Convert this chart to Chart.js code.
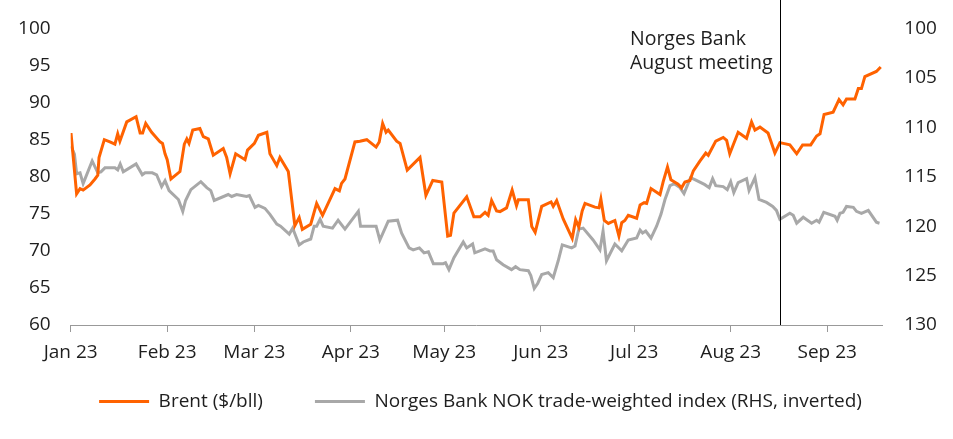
<!DOCTYPE html>
<html>
<head>
<meta charset="utf-8">
<script src="https://cdn.jsdelivr.net/npm/chart.js@4.4.0/dist/chart.umd.min.js"></script>
<style>
html, body { margin: 0; padding: 0; background: #fff; }
#wrap { position: relative; width: 953px; height: 439px; }
</style>
</head>
<body>
<div id="wrap"><canvas id="chartBrentNok"></canvas></div>
<script>
// x values = days since 1 Jan 2023
const monthDays = [0, 31, 59, 90, 120, 151, 181, 212, 243];
const monthLabels = ['Jan 23', 'Feb 23', 'Mar 23', 'Apr 23', 'May 23', 'Jun 23', 'Jul 23', 'Aug 23', 'Sep 23'];
const lastDay = 260.7;

// Brent ($/bll), LHS
const brentDay = [0.1, 1.9, 3, 4, 6.2, 7.8, 8.7, 9.1, 10.8, 12.6, 14.2, 15.1, 15.8, 18, 21, 22.3, 23.1, 24.1, 26, 28.7,
  29.5, 30.3, 31, 32.2, 35.1, 36.5, 37.3, 38, 39.2, 41.5, 42.6, 44.2, 45.8, 49, 50.1, 51.2, 53, 56, 56.8, 59,
  60.3, 63, 64, 66.2, 67.2, 69.9, 72, 73.4, 74.4, 77.1, 79, 80.9, 84.9, 86.3, 87, 88.1, 91.3, 92.9, 95.1, 98.1,
  99.1, 100.2, 101.3, 102, 104.7, 105.8, 108.1, 112.2, 114.1, 116.3, 119.2, 121.1, 122, 123.1, 127.2, 129.5, 131.5, 133.1, 134.1, 135.2,
  136.8, 137.9, 140, 141.8, 143.2, 143.8, 147, 148.1, 149.2, 151.3, 154.3, 155, 156.1, 158.2, 161.1, 162.2, 163.2, 164.3, 165.2, 168.4,
  169.7, 170.3, 171.4, 172.7, 174.8, 176.1, 177, 178, 179.1, 181.8, 182.9, 184.2, 185, 186.4, 189.3, 190.3, 191.7, 192.8, 195.1, 196.2,
  197.3, 198.9, 200, 202.1, 204, 204.8, 207.2, 209.6, 210.7, 211.7, 214.4, 217.1, 218.7, 219.8, 221.4, 224, 226.2, 227.8, 231, 233.2,
  235.1, 237.7, 239.6, 240.7, 242, 244.9, 246.8, 248.1, 249.2, 251.9, 253, 254, 255.1, 258.8, 260.2];
const brentVal = [85.9, 77.7, 78.4, 78.2, 78.9, 79.7, 80.2, 82.6, 85.0, 84.7, 84.4, 85.8, 84.8, 87.4, 88.1, 85.9, 85.9, 87.2, 86.0, 84.7,
  84.5, 83.1, 82.3, 79.7, 80.7, 84.4, 85.1, 84.5, 86.3, 86.5, 85.4, 85.1, 82.9, 83.8, 82.6, 80.4, 83.1, 82.3, 83.6, 84.5,
  85.6, 86.0, 83.1, 81.5, 82.6, 80.7, 73.4, 74.5, 72.9, 73.6, 76.4, 74.8, 78.4, 78.1, 79.1, 79.7, 84.7, 84.8, 85.0, 84.0,
  84.7, 87.2, 86.0, 86.3, 84.8, 84.5, 80.9, 82.6, 77.5, 79.5, 79.3, 72.0, 72.1, 75.1, 77.3, 74.6, 74.6, 75.2, 74.8, 76.8,
  75.4, 75.3, 75.8, 78.2, 76.1, 76.9, 76.9, 73.3, 72.5, 76.0, 76.6, 76.0, 76.8, 74.3, 71.7, 74.2, 73.2, 75.4, 76.4, 75.9,
  75.8, 77.0, 74.1, 73.7, 74.1, 72.0, 73.8, 74.1, 74.8, 74.4, 76.2, 76.5, 76.4, 78.4, 77.6, 79.3, 81.3, 79.6, 79.0, 78.5,
  79.3, 79.5, 80.8, 82.1, 83.2, 82.9, 84.8, 85.3, 84.9, 83.1, 86.0, 85.2, 87.4, 86.3, 86.7, 85.9, 83.2, 84.6, 84.3, 83.1,
  84.3, 84.3, 85.5, 85.8, 88.4, 88.7, 90.4, 89.7, 90.5, 90.5, 91.9, 91.9, 93.5, 94.2, 94.8];

// Norges Bank NOK trade-weighted index, RHS inverted
const nokDay = [0.1, 1.2, 1.9, 3, 4, 6.9, 8.7, 9.7, 11, 14.2, 15.1, 15.9, 16.9, 21, 23, 23.9, 26.2, 27.6, 29.2, 30.3,
  31.6, 34.6, 36, 36.9, 38.6, 41.8, 43.7, 45, 46.1, 50.6, 51.7, 53.3, 56.5, 57.4, 59.2, 60.3, 62.4, 64, 66.2, 67.4,
  70.2, 71.3, 73.4, 74.7, 77.1, 78.2, 79, 80.1, 81.1, 84.1, 85.9, 88.1, 92.4, 93.1, 98.1, 99.3, 102, 105, 106.3, 108.7,
  110, 112, 113.5, 114.9, 116.5, 119.7, 120.4, 121.5, 123.1, 126.1, 127.2, 129.1, 129.8, 133.1, 134.7, 135.7, 136.8, 138.9, 141.6, 142.9,
  144.3, 147, 147.8, 148.9, 150, 151.3, 153.4, 155, 156.6, 157.9, 160.9, 162, 163.2, 164.6, 167.8, 170, 171, 172.1, 174.8, 177,
  179.1, 181.8, 182.9, 183.7, 184.7, 186.4, 188.2, 189.6, 190.9, 192.5, 193.9, 195.7, 197, 199.1, 200.5, 203.7, 205.1, 206.2, 207.2, 209.6,
  210.9, 212, 213, 214.4, 217.1, 217.9, 219.8, 221.1, 223.5, 225.5, 226.7, 227.8, 231, 232.1, 233.2, 235.3, 238, 239.6, 240.4, 241.9,
  245.5, 246.2, 247.1, 248.1, 249.2, 251.4, 252.4, 254, 256.2, 258.8, 259.8];
const nokVal = [111.9, 112.7, 114.7, 114.6, 115.7, 113.4, 114.6, 114.5, 114.1, 114.1, 114.3, 113.7, 114.5, 113.7, 114.8, 114.6, 114.6, 114.8, 116.0, 115.4,
  116.4, 117.3, 118.5, 117.4, 116.3, 115.5, 116.1, 116.4, 117.4, 116.8, 117.0, 116.8, 117.0, 116.9, 118.1, 117.9, 118.2, 118.8, 119.8, 120.0,
  120.8, 120.2, 121.9, 121.6, 121.3, 120.0, 120.0, 119.3, 120.0, 120.2, 119.4, 120.3, 118.5, 120.0, 120.0, 121.4, 119.5, 119.4, 120.7, 122.2,
  122.4, 122.2, 122.7, 122.6, 123.8, 123.8, 123.7, 124.4, 123.2, 121.6, 122.2, 121.8, 122.7, 122.3, 122.5, 122.5, 123.4, 123.9, 124.4, 124.1,
  124.4, 124.5, 125.0, 126.3, 125.8, 124.9, 124.7, 125.2, 123.5, 121.9, 122.2, 122.0, 120.3, 120.2, 121.4, 122.4, 120.5, 123.5, 121.8, 122.5,
  121.4, 121.2, 120.4, 120.7, 120.5, 121.2, 120.0, 118.8, 117.3, 115.9, 115.7, 116.1, 116.7, 115.1, 115.3, 115.8, 116.1, 115.2, 115.9, 116.0,
  116.3, 115.5, 116.6, 115.6, 115.2, 116.4, 115.1, 117.3, 117.6, 118.0, 118.4, 119.3, 118.7, 118.9, 119.7, 119.1, 119.7, 119.4, 119.6, 118.6,
  119.0, 119.4, 118.7, 118.6, 118.0, 118.1, 118.5, 118.7, 118.4, 119.6, 119.7];

const meetingDay = 227.7;
const meetingText = ['Norges Bank', 'August meeting'];

const ORANGE = '#ff6200', GREY = '#a8a8a8', AXIS = '#999999', TEXT = '#1e1e1e';
const FONT = "'Open Sans', 'DejaVu Sans', sans-serif";

Chart.defaults.font.family = FONT;
Chart.defaults.font.size = 19;
Chart.defaults.color = TEXT;

const toPoints = (xs, ys) => xs.map((x, i) => ({ x, y: ys[i] }));

// vertical marker + label for the August meeting
const meetingLine = {
  id: 'meetingLine',
  afterDatasetsDraw(chart) {
    const { ctx, chartArea, scales: { x } } = chart;
    const px = Math.round(x.getPixelForValue(meetingDay)) + 0.5;
    ctx.save();
    ctx.strokeStyle = '#000'; ctx.lineWidth = 1;
    ctx.beginPath(); ctx.moveTo(px, 0); ctx.lineTo(px, chartArea.bottom); ctx.stroke();
    ctx.font = '19.5px ' + FONT; ctx.fillStyle = TEXT; ctx.textBaseline = 'middle'; ctx.textAlign = 'left';
    const w = Math.max(...meetingText.map(t => ctx.measureText(t).width));
    meetingText.forEach((t, i) => ctx.fillText(t, px - 8 - w, chartArea.top + 11 + i * 24.3));
    ctx.restore();
  }
};

// legend padding is wide (gap between items), so start the legend row higher, right under the axis labels
const legendLift = {
  id: 'legendLift',
  afterLayout(chart) {
    const lg = chart.legend;
    lg.top -= 35; lg.left += 4; lg.right += 4;
  }
};

new Chart(document.getElementById('chartBrentNok').getContext('2d'), {
  type: 'line',
  data: {
    datasets: [
      { label: 'Brent ($/bll)', data: toPoints(brentDay, brentVal), yAxisID: 'y',
        borderColor: ORANGE, backgroundColor: ORANGE, borderWidth: 3, pointRadius: 0, tension: 0 },
      { label: 'Norges Bank NOK trade-weighted index (RHS, inverted)', data: toPoints(nokDay, nokVal), yAxisID: 'y2',
        borderColor: GREY, backgroundColor: GREY, borderWidth: 3, pointRadius: 0, tension: 0 }
    ]
  },
  options: {
    responsive: true, maintainAspectRatio: false, animation: false,
    layout: { padding: { top: 28.5, left: 0, right: 0, bottom: 0 } },
    plugins: {
      tooltip: { enabled: false },
      legend: {
        position: 'bottom', maxHeight: 64,
        labels: {
          boxWidth: 50, boxHeight: 3, padding: 52, color: TEXT, font: { size: 19 },
          generateLabels: chart => Chart.defaults.plugins.legend.labels.generateLabels(chart).map(it => ({ ...it, lineWidth: 0 }))
        }
      }
    },
    scales: {
      x: {
        type: 'linear', min: 0, max: lastDay,
        afterBuildTicks: s => { s.ticks = monthDays.map(v => ({ value: v })); },
        ticks: { autoSkip: false, maxRotation: 0, padding: 9, callback: (v, i) => monthLabels[i] },
        grid: { drawOnChartArea: false, drawTicks: true, tickLength: 7, color: AXIS, lineWidth: 1 },
        border: { display: true, color: AXIS, width: 1 },
        afterFit: s => { s.height = 50; }
      },
      y: {
        position: 'left', min: 60, max: 100,
        ticks: { stepSize: 5, padding: 12 },
        grid: { display: false }, border: { display: false },
        afterFit: s => { s.width = 70.7; }
      },
      y2: {
        position: 'right', min: 100, max: 130, reverse: true,
        ticks: { stepSize: 5, padding: 14 },
        grid: { display: false }, border: { display: false },
        afterFit: s => { s.width = 70.7; }
      }
    }
  },
  plugins: [meetingLine, legendLift]
});
</script>
</body>
</html>
